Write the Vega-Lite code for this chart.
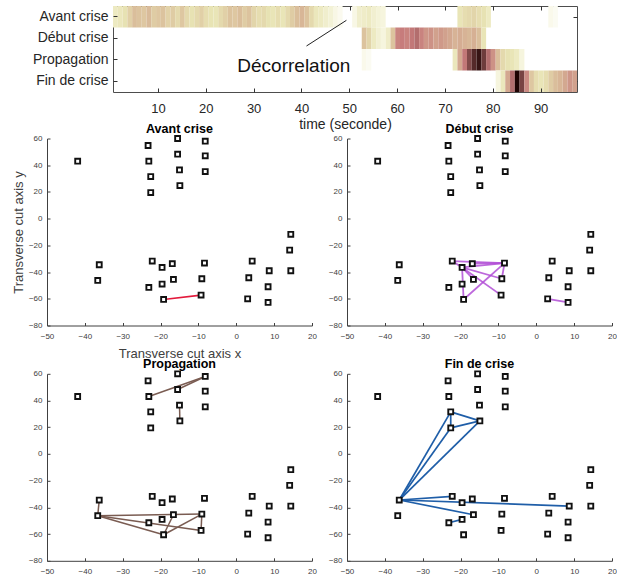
{
  "$schema": "https://vega.github.io/schema/vega-lite/v6.json",
  "background": "white",
  "padding": {"left": 12, "top": 5, "right": 0, "bottom": 0},
  "config": {
    "view": {"stroke": null},
    "font": "Liberation Sans",
    "axis": {"titleFontWeight": "normal", "grid": false, "labelFont": "Liberation Sans", "titleFont": "Liberation Sans", "labelOverlap": false, "labelSeparation": 0},
    "title": {"font": "Liberation Sans"},
    "text": {"font": "Liberation Sans"}
  },
  "datasets": {
    "heat": [
      {"p":"Avant crise","t":1,"v":0.2},{"p":"Avant crise","t":2,"v":0.22},{"p":"Avant crise","t":3,"v":0.26},{"p":"Avant crise","t":4,"v":0.34},{"p":"Avant crise","t":5,"v":0.42},{"p":"Avant crise","t":6,"v":0.4},{"p":"Avant crise","t":7,"v":0.38},{"p":"Avant crise","t":8,"v":0.43},{"p":"Avant crise","t":9,"v":0.36},{"p":"Avant crise","t":10,"v":0.38},
      {"p":"Avant crise","t":11,"v":0.4},{"p":"Avant crise","t":12,"v":0.33},{"p":"Avant crise","t":13,"v":0.36},{"p":"Avant crise","t":14,"v":0.3},{"p":"Avant crise","t":15,"v":0.38},{"p":"Avant crise","t":16,"v":0.3},{"p":"Avant crise","t":17,"v":0.26},{"p":"Avant crise","t":18,"v":0.3},{"p":"Avant crise","t":19,"v":0.34},{"p":"Avant crise","t":20,"v":0.28},
      {"p":"Avant crise","t":21,"v":0.25},{"p":"Avant crise","t":22,"v":0.24},{"p":"Avant crise","t":23,"v":0.3},{"p":"Avant crise","t":24,"v":0.34},{"p":"Avant crise","t":25,"v":0.4},{"p":"Avant crise","t":26,"v":0.38},{"p":"Avant crise","t":27,"v":0.42},{"p":"Avant crise","t":28,"v":0.36},{"p":"Avant crise","t":29,"v":0.4},{"p":"Avant crise","t":30,"v":0.32},
      {"p":"Avant crise","t":31,"v":0.28},{"p":"Avant crise","t":32,"v":0.3},{"p":"Avant crise","t":33,"v":0.26},{"p":"Avant crise","t":34,"v":0.24},{"p":"Avant crise","t":35,"v":0.28},{"p":"Avant crise","t":36,"v":0.24},{"p":"Avant crise","t":37,"v":0.3},{"p":"Avant crise","t":38,"v":0.36},{"p":"Avant crise","t":39,"v":0.42},{"p":"Avant crise","t":40,"v":0.45},
      {"p":"Avant crise","t":41,"v":0.4},{"p":"Avant crise","t":42,"v":0.3},{"p":"Avant crise","t":43,"v":0.22},{"p":"Avant crise","t":44,"v":0.2},{"p":"Avant crise","t":45,"v":0.16},{"p":"Avant crise","t":46,"v":0.13},{"p":"Avant crise","t":47,"v":0.08},{"p":"Avant crise","t":48,"v":0.05},
      {"p":"Avant crise","t":51,"v":0.08},{"p":"Avant crise","t":52,"v":0.16},{"p":"Avant crise","t":53,"v":0.18},{"p":"Avant crise","t":54,"v":0.2},{"p":"Avant crise","t":55,"v":0.15},{"p":"Avant crise","t":56,"v":0.12},{"p":"Avant crise","t":57,"v":0.1},
      {"p":"Avant crise","t":73,"v":0.24},{"p":"Avant crise","t":74,"v":0.28},{"p":"Avant crise","t":75,"v":0.3},{"p":"Avant crise","t":76,"v":0.32},{"p":"Avant crise","t":77,"v":0.28},{"p":"Avant crise","t":78,"v":0.26},{"p":"Avant crise","t":79,"v":0.2},
      {"p":"Avant crise","t":92,"v":0.06},{"p":"Avant crise","t":93,"v":0.04},
      {"p":"Début crise","t":53,"v":0.4},{"p":"Début crise","t":54,"v":0.32},{"p":"Début crise","t":55,"v":0.2},{"p":"Début crise","t":56,"v":0.14},{"p":"Début crise","t":57,"v":0.1},{"p":"Début crise","t":58,"v":0.18},{"p":"Début crise","t":59,"v":0.4},{"p":"Début crise","t":60,"v":0.6},
      {"p":"Début crise","t":61,"v":0.62},{"p":"Début crise","t":62,"v":0.6},{"p":"Début crise","t":63,"v":0.63},{"p":"Début crise","t":64,"v":0.66},{"p":"Début crise","t":65,"v":0.6},{"p":"Début crise","t":66,"v":0.55},{"p":"Début crise","t":67,"v":0.56},{"p":"Début crise","t":68,"v":0.52},{"p":"Début crise","t":69,"v":0.54},{"p":"Début crise","t":70,"v":0.52},
      {"p":"Début crise","t":71,"v":0.5},{"p":"Début crise","t":72,"v":0.46},{"p":"Début crise","t":73,"v":0.48},{"p":"Début crise","t":74,"v":0.46},{"p":"Début crise","t":75,"v":0.44},{"p":"Début crise","t":76,"v":0.47},{"p":"Début crise","t":77,"v":0.42},{"p":"Début crise","t":78,"v":0.24},
      {"p":"Propagation","t":53,"v":0.06},{"p":"Propagation","t":54,"v":0.04},{"p":"Propagation","t":72,"v":0.22},{"p":"Propagation","t":73,"v":0.5},{"p":"Propagation","t":74,"v":0.63},{"p":"Propagation","t":75,"v":0.76},{"p":"Propagation","t":76,"v":0.86},{"p":"Propagation","t":77,"v":0.93},{"p":"Propagation","t":78,"v":0.8},{"p":"Propagation","t":79,"v":0.66},
      {"p":"Propagation","t":80,"v":0.56},{"p":"Propagation","t":81,"v":0.42},{"p":"Propagation","t":82,"v":0.3},{"p":"Propagation","t":83,"v":0.26},{"p":"Propagation","t":84,"v":0.24},{"p":"Propagation","t":85,"v":0.2},{"p":"Propagation","t":86,"v":0.1},
      {"p":"Fin de crise","t":81,"v":0.1},{"p":"Fin de crise","t":82,"v":0.22},{"p":"Fin de crise","t":83,"v":0.5},{"p":"Fin de crise","t":84,"v":0.66},{"p":"Fin de crise","t":85,"v":0.99},{"p":"Fin de crise","t":86,"v":0.78},{"p":"Fin de crise","t":87,"v":0.58},{"p":"Fin de crise","t":88,"v":0.38},{"p":"Fin de crise","t":89,"v":0.28},
      {"p":"Fin de crise","t":90,"v":0.24},{"p":"Fin de crise","t":91,"v":0.28},{"p":"Fin de crise","t":92,"v":0.36},{"p":"Fin de crise","t":93,"v":0.42},{"p":"Fin de crise","t":94,"v":0.45},{"p":"Fin de crise","t":95,"v":0.5},{"p":"Fin de crise","t":96,"v":0.55},{"p":"Fin de crise","t":97,"v":0.52}
    ],
    "annotText": [{"label": "Décorrelation", "t": 38.3, "r": 3.27}],
    "annotLine": [{"t": 40.95, "r": 2.36, "t2": 49.3, "r2": 1.165}],
    "nodes": [
      {"x":-41.9,"y":43},{"x":-23.3,"y":54.75},{"x":-23.1,"y":43},{"x":-22.6,"y":31.5},{"x":-22.6,"y":19.5},{"x":-15.5,"y":60},{"x":-15.5,"y":48.25},{"x":-15.0,"y":36.5},{"x":-14.9,"y":24.75},{"x":-8.2,"y":58},{"x":-8.2,"y":47},{"x":-8.2,"y":35.25},
      {"x":-36.2,"y":-34.5},{"x":-36.6,"y":-46.25},{"x":-22.2,"y":-31.75},{"x":-19.6,"y":-36.5},{"x":-16.9,"y":-33.75},{"x":-8.4,"y":-33.25},{"x":-23.1,"y":-51.5},{"x":-19.6,"y":-49},{"x":-16.6,"y":-45.5},{"x":-9.1,"y":-45},{"x":-19.2,"y":-60.5},{"x":-9.3,"y":-57.25},
      {"x":4.2,"y":-31.75},{"x":3.3,"y":-44.25},{"x":8.7,"y":-39},{"x":8.4,"y":-51},{"x":3.0,"y":-60},{"x":8.4,"y":-62.75},{"x":14.4,"y":-11.75},{"x":14.1,"y":-23.5},{"x":14.4,"y":-39}
    ],
    "edges": [
      {"panel":"Avant crise","x":-19.2,"y":-60.5,"xe":-9.3,"ye":-57.25},
      {"panel":"Début crise","x":-22.2,"y":-31.75,"xe":-19.6,"ye":-36.5},
      {"panel":"Début crise","x":-22.2,"y":-31.75,"xe":-8.4,"ye":-33.25},
      {"panel":"Début crise","x":-19.6,"y":-36.5,"xe":-8.4,"ye":-33.25},
      {"panel":"Début crise","x":-16.9,"y":-33.75,"xe":-8.4,"ye":-33.25},
      {"panel":"Début crise","x":-19.6,"y":-36.5,"xe":-19.2,"ye":-60.5},
      {"panel":"Début crise","x":-19.2,"y":-60.5,"xe":-8.4,"ye":-33.25},
      {"panel":"Début crise","x":-19.6,"y":-36.5,"xe":-9.3,"ye":-57.25},
      {"panel":"Début crise","x":-19.6,"y":-36.5,"xe":-9.1,"ye":-45},
      {"panel":"Début crise","x":-8.4,"y":-33.25,"xe":-9.1,"ye":-45},
      {"panel":"Début crise","x":-19.6,"y":-36.5,"xe":-16.6,"ye":-45.5},
      {"panel":"Début crise","x":3.0,"y":-60,"xe":8.4,"ye":-62.75},
      {"panel":"Propagation","x":-36.2,"y":-34.5,"xe":-36.6,"ye":-46.25},
      {"panel":"Propagation","x":-36.6,"y":-46.25,"xe":-9.1,"ye":-45},
      {"panel":"Propagation","x":-36.6,"y":-46.25,"xe":-19.2,"ye":-60.5},
      {"panel":"Propagation","x":-36.6,"y":-46.25,"xe":-9.3,"ye":-57.25},
      {"panel":"Propagation","x":-16.6,"y":-45.5,"xe":-19.2,"ye":-60.5},
      {"panel":"Propagation","x":-19.2,"y":-60.5,"xe":-9.1,"ye":-45},
      {"panel":"Propagation","x":-9.1,"y":-45,"xe":-9.3,"ye":-57.25},
      {"panel":"Propagation","x":-23.1,"y":43,"xe":-8.2,"ye":58},
      {"panel":"Propagation","x":-15.5,"y":48.25,"xe":-8.2,"ye":58},
      {"panel":"Propagation","x":-15.0,"y":36.5,"xe":-14.9,"ye":24.75},
      {"panel":"Fin de crise","x":-36.2,"y":-34.5,"xe":-22.6,"ye":31.5},
      {"panel":"Fin de crise","x":-36.2,"y":-34.5,"xe":-22.6,"ye":19.5},
      {"panel":"Fin de crise","x":-36.2,"y":-34.5,"xe":-14.9,"ye":24.75},
      {"panel":"Fin de crise","x":-22.6,"y":31.5,"xe":-22.6,"ye":19.5},
      {"panel":"Fin de crise","x":-22.6,"y":31.5,"xe":-14.9,"ye":24.75},
      {"panel":"Fin de crise","x":-22.6,"y":19.5,"xe":-14.9,"ye":24.75},
      {"panel":"Fin de crise","x":-36.2,"y":-34.5,"xe":-22.2,"ye":-31.75},
      {"panel":"Fin de crise","x":-36.2,"y":-34.5,"xe":-16.6,"ye":-45.5},
      {"panel":"Fin de crise","x":-36.2,"y":-34.5,"xe":8.7,"ye":-39},
      {"panel":"Fin de crise","x":-23.1,"y":-51.5,"xe":-19.6,"ye":-49}
    ]
  },
  "spacing": -9.5,
  "vconcat": [
    {
      "bounds": "flush",
      "spacing": 0,
      "hconcat": [
        {"width": 66, "height": 1, "data": {"values": []}, "mark": "point", "encoding": {}},
        {
          "width": 464,
          "height": 86,
          "view": {"stroke": "#4d4d4d", "strokeWidth": 1},
          "resolve": {"scale": {"x": "independent", "y": "independent"}},
          "layer": [
            {
              "data": {"name": "heat"},
              "mark": {"type": "rect"},
              "encoding": {
                "x": {"field": "t", "type": "ordinal",
                  "scale": {"domain": [1,2,3,4,5,6,7,8,9,10,11,12,13,14,15,16,17,18,19,20,21,22,23,24,25,26,27,28,29,30,31,32,33,34,35,36,37,38,39,40,41,42,43,44,45,46,47,48,49,50,51,52,53,54,55,56,57,58,59,60,61,62,63,64,65,66,67,68,69,70,71,72,73,74,75,76,77,78,79,80,81,82,83,84,85,86,87,88,89,90,91,92,93,94,95,96,97], "paddingInner": 0, "paddingOuter": 0},
                  "axis": {"values": [10,20,30,40,50,60,70,80,90], "labelAngle": 0, "domain": false, "tickSize": -4, "tickColor": "#333333", "labelPadding": 14.5, "labelFontSize": 13, "labelColor": "#262626", "title": "time (seconde)", "titleFontSize": 14, "titleColor": "#262626", "titlePadding": 2}},
                "y": {"field": "p", "type": "nominal",
                  "scale": {"domain": ["Avant crise", "Début crise", "Propagation", "Fin de crise"], "paddingInner": 0, "paddingOuter": 0},
                  "axis": {"title": null, "domain": false, "tickSize": -4, "tickColor": "#333333", "labelPadding": 9, "labelFontSize": 14, "labelColor": "#262626", "minExtent": 0}},
                "color": {"field": "v", "type": "quantitative", "legend": null,
                  "scale": {"domain": [0, 0.1, 0.25, 0.4, 0.5, 0.62, 0.8, 1], "range": ["#ffffff", "#f6f5de", "#e8e4b4", "#dcc39e", "#d3a890", "#c77c7c", "#6e3c3c", "#1a0000"], "interpolate": "rgb"}}
              }
            },
            {
              "layer": [
                {
                  "data": {"name": "annotText"},
                  "mark": {"type": "text", "fontSize": 19, "color": "#111111", "baseline": "middle", "align": "center"},
                  "encoding": {
                    "x": {"field": "t", "type": "quantitative", "scale": {"domain": [0.5, 97.5], "nice": false, "zero": false},
                      "axis": {"orient": "top", "values": [10,20,30,40,50,60,70,80,90], "labels": false, "domain": false, "tickSize": -4, "tickColor": "#333333", "title": null, "grid": false}},
                    "y": {"field": "r", "type": "quantitative", "scale": {"domain": [0.5, 4.5], "reverse": true, "nice": false, "zero": false},
                      "axis": {"orient": "right", "values": [1,2,3,4], "labels": false, "domain": false, "tickSize": -4, "tickColor": "#333333", "title": null, "grid": false, "minExtent": 0}},
                    "text": {"field": "label"}
                  }
                },
                {
                  "data": {"name": "annotLine"},
                  "mark": {"type": "rule", "color": "#222222", "strokeWidth": 1},
                  "encoding": {
                    "x": {"field": "t", "type": "quantitative"},
                    "x2": {"field": "t2"},
                    "y": {"field": "r", "type": "quantitative"},
                    "y2": {"field": "r2"}
                  }
                }
              ]
            }
          ]
        }
      ]
    },
    {
      "bounds": "flush",
      "columns": 2,
      "spacing": {"column": 35, "row": 48.3},
      "concat": [
        {
          "width": 265, "height": 187,
          "title": {"text": "Avant crise", "frame": "group", "offset": -3, "fontSize": 12.5, "fontWeight": "bold", "color": "#000000"},
          "encoding": {
            "x": {"field": "x", "type": "quantitative", "scale": {"domain": [-50, 20], "nice": false, "zero": false},
              "axis": {"values": [-50,-40,-30,-20,-10,0,10,20], "grid": false, "tickSize": -3, "labelPadding": 9.5, "labelFontSize": 8, "labelColor": "#404040", "domainColor": "#404040", "tickColor": "#404040", "labelFlush": false, "labelOverlap": false, "title": "Transverse cut axis x", "titleFontSize": 13, "titleColor": "#404040", "titlePadding": 7}},
            "y": {"field": "y", "type": "quantitative", "scale": {"domain": [-80, 60], "nice": false, "zero": false},
              "axis": {"values": [-80,-60,-40,-20,0,20,40,60], "grid": false, "tickSize": -3, "labelPadding": 8, "labelFontSize": 8, "labelColor": "#404040", "domainColor": "#404040", "tickColor": "#404040", "labelFlush": false, "labelOverlap": false, "minExtent": 0, "title": "Transverse cut axis y", "titleFontSize": 13, "titleColor": "#404040", "titlePadding": 3}}
          },
          "layer": [
            {"data": {"name": "edges"}, "transform": [{"filter": {"field": "panel", "equal": "Avant crise"}}],
             "mark": {"type": "rule", "color": "#e31a3c", "strokeWidth": 1.6},
             "encoding": {"x2": {"field": "xe"}, "y2": {"field": "ye"}}},
            {"data": {"name": "nodes"},
             "mark": {"type": "point", "shape": "square", "filled": true, "fill": "white", "stroke": "#111111", "strokeWidth": 1.9, "size": 24, "opacity": 1}}
          ]
        },
        {
          "width": 265, "height": 187,
          "title": {"text": "Début crise", "frame": "group", "offset": -3, "fontSize": 12.5, "fontWeight": "bold", "color": "#000000"},
          "encoding": {
            "x": {"field": "x", "type": "quantitative", "scale": {"domain": [-50, 20], "nice": false, "zero": false},
              "axis": {"values": [-50,-40,-30,-20,-10,0,10,20], "grid": false, "tickSize": -3, "labelPadding": 9.5, "labelFontSize": 8, "labelColor": "#404040", "domainColor": "#404040", "tickColor": "#404040", "labelFlush": false, "labelOverlap": false, "title": null}},
            "y": {"field": "y", "type": "quantitative", "scale": {"domain": [-80, 60], "nice": false, "zero": false},
              "axis": {"values": [-80,-60,-40,-20,0,20,40,60], "grid": false, "tickSize": -3, "labelPadding": 8, "labelFontSize": 8, "labelColor": "#404040", "domainColor": "#404040", "tickColor": "#404040", "labelFlush": false, "labelOverlap": false, "minExtent": 0, "title": null}}
          },
          "layer": [
            {"data": {"name": "edges"}, "transform": [{"filter": {"field": "panel", "equal": "Début crise"}}],
             "mark": {"type": "rule", "color": "#b24ed6", "strokeWidth": 1.8, "opacity": 0.85},
             "encoding": {"x2": {"field": "xe"}, "y2": {"field": "ye"}}},
            {"data": {"name": "nodes"},
             "mark": {"type": "point", "shape": "square", "filled": true, "fill": "white", "stroke": "#111111", "strokeWidth": 1.9, "size": 24, "opacity": 1}}
          ]
        },
        {
          "width": 265, "height": 187,
          "title": {"text": "Propagation", "frame": "group", "offset": -3, "fontSize": 12.5, "fontWeight": "bold", "color": "#000000"},
          "encoding": {
            "x": {"field": "x", "type": "quantitative", "scale": {"domain": [-50, 20], "nice": false, "zero": false},
              "axis": {"values": [-50,-40,-30,-20,-10,0,10,20], "grid": false, "tickSize": -3, "labelPadding": 9.5, "labelFontSize": 8, "labelColor": "#404040", "domainColor": "#404040", "tickColor": "#404040", "labelFlush": false, "labelOverlap": false, "title": null}},
            "y": {"field": "y", "type": "quantitative", "scale": {"domain": [-80, 60], "nice": false, "zero": false},
              "axis": {"values": [-80,-60,-40,-20,0,20,40,60], "grid": false, "tickSize": -3, "labelPadding": 8, "labelFontSize": 8, "labelColor": "#404040", "domainColor": "#404040", "tickColor": "#404040", "labelFlush": false, "labelOverlap": false, "minExtent": 0, "title": null}}
          },
          "layer": [
            {"data": {"name": "edges"}, "transform": [{"filter": {"field": "panel", "equal": "Propagation"}}],
             "mark": {"type": "rule", "color": "#7a5c52", "strokeWidth": 1.5},
             "encoding": {"x2": {"field": "xe"}, "y2": {"field": "ye"}}},
            {"data": {"name": "nodes"},
             "mark": {"type": "point", "shape": "square", "filled": true, "fill": "white", "stroke": "#111111", "strokeWidth": 1.9, "size": 24, "opacity": 1}}
          ]
        },
        {
          "width": 265, "height": 187,
          "title": {"text": "Fin de crise", "frame": "group", "offset": -3, "fontSize": 12.5, "fontWeight": "bold", "color": "#000000"},
          "encoding": {
            "x": {"field": "x", "type": "quantitative", "scale": {"domain": [-50, 20], "nice": false, "zero": false},
              "axis": {"values": [-50,-40,-30,-20,-10,0,10,20], "grid": false, "tickSize": -3, "labelPadding": 9.5, "labelFontSize": 8, "labelColor": "#404040", "domainColor": "#404040", "tickColor": "#404040", "labelFlush": false, "labelOverlap": false, "title": null}},
            "y": {"field": "y", "type": "quantitative", "scale": {"domain": [-80, 60], "nice": false, "zero": false},
              "axis": {"values": [-80,-60,-40,-20,0,20,40,60], "grid": false, "tickSize": -3, "labelPadding": 8, "labelFontSize": 8, "labelColor": "#404040", "domainColor": "#404040", "tickColor": "#404040", "labelFlush": false, "labelOverlap": false, "minExtent": 0, "title": null}}
          },
          "layer": [
            {"data": {"name": "edges"}, "transform": [{"filter": {"field": "panel", "equal": "Fin de crise"}}],
             "mark": {"type": "rule", "color": "#1f5ea8", "strokeWidth": 1.7},
             "encoding": {"x2": {"field": "xe"}, "y2": {"field": "ye"}}},
            {"data": {"name": "nodes"},
             "mark": {"type": "point", "shape": "square", "filled": true, "fill": "white", "stroke": "#111111", "strokeWidth": 1.9, "size": 24, "opacity": 1}}
          ]
        }
      ]
    }
  ]
}
